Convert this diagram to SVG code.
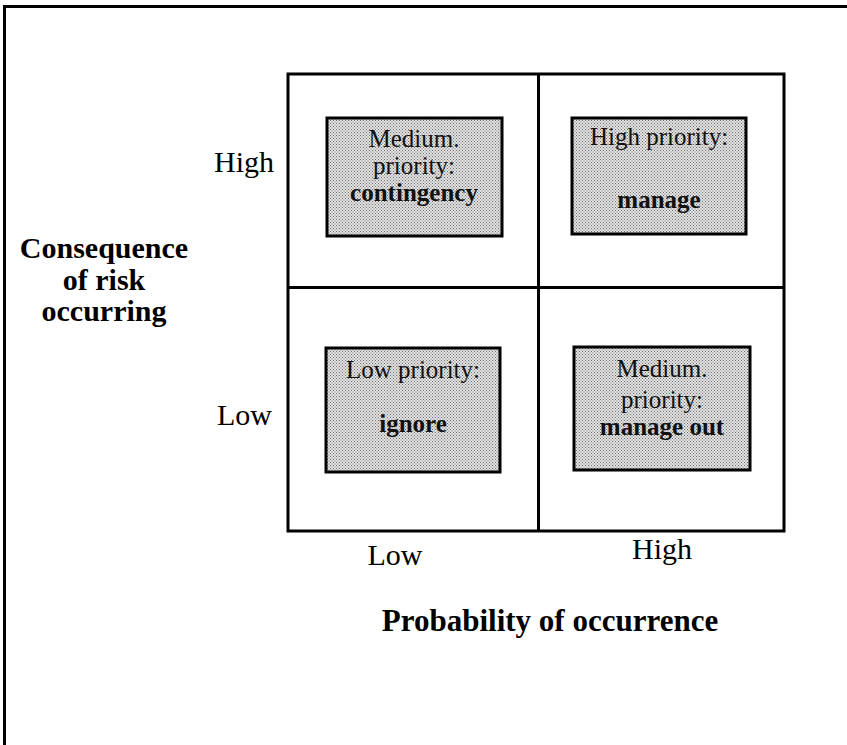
<svg xmlns="http://www.w3.org/2000/svg" width="847" height="745" viewBox="0 0 847 745">
  <style>
    .frame { fill: none; stroke: #000; stroke-width: 3; }
    .grid { fill: none; stroke: #000; stroke-width: 3; }
    .cell { fill: url(#stipple); stroke: #000; stroke-width: 3; }
    .axis { font-family: "Liberation Serif", "Times New Roman", serif; font-size: 30px; fill: #000; }
    .title { font-family: "Liberation Serif", "Times New Roman", serif; font-size: 30px; font-weight: bold; fill: #000; text-anchor: middle; }
    .lbl { font-family: "Liberation Serif", "Times New Roman", serif; font-size: 25px; fill: #111; text-anchor: middle; }
    .act { font-weight: bold; }
  </style>
  <defs>
    <!-- fine halftone dot pattern for the shaded priority boxes -->
    <pattern id="stipple" width="3" height="3" patternUnits="userSpaceOnUse">
      <rect width="3" height="3" fill="#e4e4e4"/>
      <rect x="0" y="0" width="1" height="1" fill="#6a6a6a"/>
      <rect x="1.5" y="1.5" width="1" height="1" fill="#6a6a6a"/>
    </pattern>
  </defs>
  <rect width="847" height="745" fill="#fff"/>

  <!-- page frame (top and left edges) -->
  <polyline class="frame" points="4.5,745 4.5,6.5 847,6.5"/>

  <!-- 2x2 risk matrix -->
  <g id="matrix">
    <rect class="grid" x="288" y="74" width="496" height="457"/>
    <line class="grid" x1="538.5" y1="74" x2="538.5" y2="531"/>
    <line class="grid" x1="288" y1="287.5" x2="784" y2="287.5"/>
  </g>

  <!-- axis labels -->
  <g id="y-axis">
    <text class="axis" x="274" y="172" text-anchor="end">High</text>
    <text class="axis" x="272" y="425" text-anchor="end">Low</text>
    <text class="title" x="104" y="258">Consequence</text>
    <text class="title" x="104" y="290">of risk</text>
    <text class="title" x="104" y="321">occurring</text>
  </g>
  <g id="x-axis">
    <text class="axis" x="395" y="565" text-anchor="middle">Low</text>
    <text class="axis" x="662" y="559" text-anchor="middle">High</text>
    <text class="title" x="550" y="631" style="font-size:31px">Probability of occurrence</text>
  </g>

  <!-- quadrant nodes -->
  <g id="medium-contingency">
    <rect class="cell" x="327" y="118" width="175" height="118"/>
    <text class="lbl" x="414" y="147">Medium.</text>
    <text class="lbl" x="414" y="174">priority:</text>
    <text class="lbl act" x="414" y="201">contingency</text>
  </g>
  <g id="high-manage">
    <rect class="cell" x="572" y="118" width="174" height="116"/>
    <text class="lbl" x="659" y="145">High priority:</text>
    <text class="lbl act" x="659" y="208">manage</text>
  </g>
  <g id="low-ignore">
    <rect class="cell" x="326" y="348" width="174" height="124"/>
    <text class="lbl" x="413" y="378">Low priority:</text>
    <text class="lbl act" x="413" y="432">ignore</text>
  </g>
  <g id="medium-manage-out">
    <rect class="cell" x="574" y="347" width="176" height="123"/>
    <text class="lbl" x="662" y="377">Medium.</text>
    <text class="lbl" x="662" y="408">priority:</text>
    <text class="lbl act" x="662" y="435">manage out</text>
  </g>
</svg>
